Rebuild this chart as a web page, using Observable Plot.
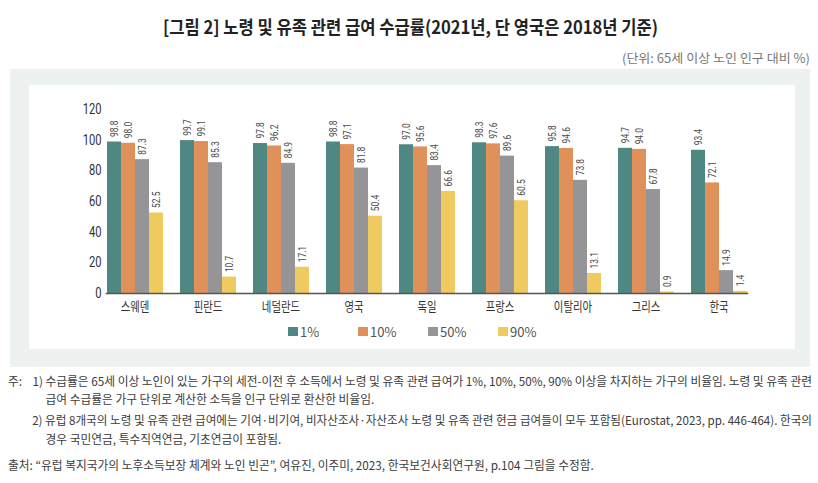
<!DOCTYPE html>
<html><head><meta charset="utf-8">
<script src="https://cdn.jsdelivr.net/npm/d3@7"></script>
<script src="https://cdn.jsdelivr.net/npm/@observablehq/plot@0.6"></script>
<style>
html,body{margin:0;padding:0;}
body{width:818px;height:483px;background:#fff;position:relative;overflow:hidden;font-family:"Noto Sans CJK KR",sans-serif;}
.abs{position:absolute;white-space:nowrap;display:inline-block;}
#title{top:13px;font-size:18px;font-weight:700;color:#222;line-height:26px;}
#unit{top:50px;font-size:12.5px;color:#777;line-height:16px;}
#panel{position:absolute;left:10px;top:69px;width:800px;height:298px;background:#edf2f1;}
#inner{position:absolute;left:29px;top:85px;width:766px;height:264px;background:#fff;}
#chart{position:absolute;left:29px;top:85px;}
#legend{position:absolute;left:288px;top:322px;height:18px;}
.note{font-size:12px;color:#3c3c3c;line-height:14px;}
.lab{display:inline-block;width:25px;}
.hid{visibility:hidden;}
.lg-swatches{font-family:"Noto Sans CJK KR",sans-serif !important;font-size:13px !important;color:#555 !important;margin:0 !important;min-height:18px !important;}
.lg-swatch{width:70px !important;margin-right:0 !important;}
.lg-swatch > svg{margin-right:2px !important;}
</style></head>
<body>
<div id="panel"></div>
<div id="inner"></div>
<div id="title" class="abs">[그림 2] 노령 및 유족 관련 급여 수급률(2021년, 단 영국은 2018년 기준)</div>
<div id="unit" class="abs">(단위: 65세 이상 노인 인구 대비 %)</div>
<div id="chart"></div>
<div id="legend"></div>
<div id="n1" class="abs note" style="top:374px"><span class="lab">주:</span>1) 수급률은 65세 이상 노인이 있는 가구의 세전-이전 후 소득에서 노령 및 유족 관련 급여가 1%, 10%, 50%, 90% 이상을 차지하는 가구의 비율임. 노령 및 유족 관련</div>
<div id="n2" class="abs note" style="top:392px"><span class="hid"><span class="lab">주:</span>1) </span>급여 수급률은 가구 단위로 계산한 소득을 인구 단위로 환산한 비율임.</div>
<div id="n3" class="abs note" style="top:413px"><span class="hid"><span class="lab">주:</span></span>2) 유럽 8개국의 노령 및 유족 관련 급여에는 기여·비기여, 비자산조사·자산조사 노령 및 유족 관련 현금 급여들이 모두 포함됨(Eurostat, 2023, pp. 446-464). 한국의</div>
<div id="n4" class="abs note" style="top:432px"><span class="hid"><span class="lab">주:</span>2) </span>경우 국민연금, 특수직역연금, 기초연금이 포함됨.</div>
<div id="n5" class="abs note" style="top:458px">출처: “유럽 복지국가의 노후소득보장 체계와 노인 빈곤”, 여유진, 이주미, 2023, 한국보건사회연구원, p.104 그림을 수정함.</div>
<script>
const countries = ["스웨덴","핀란드","네덜란드","영국","독일","프랑스","이탈리아","그리스","한국"];
const series = ["1%","10%","50%","90%"];
const p1  = [98.8, 99.7, 97.8, 98.8, 97.0, 98.3, 95.8, 94.7, 93.4];
const p10 = [98.0, 99.1, 96.2, 97.1, 95.6, 97.6, 94.6, 94.0, 72.1];
const p50 = [87.3, 85.3, 84.9, 81.8, 83.4, 89.6, 73.8, 67.8, 14.9];
const p90 = [52.5, 10.7, 17.1, 50.4, 66.6, 60.5, 13.1, 0.9, 1.4];
const yTicks = [0, 20, 40, 60, 80, 100, 120];
const colors = ["#4f8783", "#e0915a", "#959597", "#efca60"];

function fit(id, left, width) {
  const el = document.getElementById(id);
  const w = el.getBoundingClientRect().width;
  const k = width / w;
  el.style.transformOrigin = "0 50%";
  el.style.left = left + "px";
  el.style.transform = `scaleX(${k})`;
  return k;
}
function applyK(id, left, k) {
  const el = document.getElementById(id);
  el.style.transformOrigin = "0 50%";
  el.style.left = left + "px";
  el.style.transform = `scaleX(${k})`;
}
fit("title", 163, 495);
fit("unit", 622, 188);
const k = fit("n1", 8, 804);
fit("n3", 8, 804);
["n2","n4","n5"].forEach(id => applyK(id, 8, k));

const seriesValues = [p1, p10, p50, p90];
const rows = countries.flatMap((country, i) =>
  series.map((s, j) => ({country, series: s, value: seriesValues[j][i]})));
const fmt = d3.format(".1f");

const chart = Plot.plot({
  width: 766, height: 233,
  marginLeft: 66, marginRight: 38, marginTop: 24, marginBottom: 25,
  style: {fontFamily: "Roboto, 'Noto Sans CJK KR', sans-serif", background: "transparent", overflow: "visible"},
  fx: {domain: countries, paddingInner: 0.22, paddingOuter: 0.11, label: null},
  x: {domain: series, padding: 0, axis: null},
  y: {domain: [0, 120]},
  color: {domain: series, range: colors},
  marks: [
    Plot.axisY({ticks: yTicks, tickSize: 0, tickPadding: 5, label: null, fontSize: 14, fill: "#333"}),
    Plot.axisFx({anchor: "bottom", tickSize: 0, tickPadding: 8, label: null, fontSize: 13, fontFamily: "Noto Sans CJK KR", fill: "#333"}),
    Plot.barY(rows, {fx: "country", x: "series", y: "value", fill: "series"}),
    Plot.text(rows, {fx: "country", x: "series", y: "value", text: d => fmt(d.value), rotate: -90, textAnchor: "start", dy: -5, fontSize: 10.5, fill: "#4a4a4a"}),
    Plot.frame({anchor: "bottom", facet: "super", stroke: "#555", strokeWidth: 1.5})
  ]
});
d3.select(chart).selectAll("text").each(function() {
  const t = this.getAttribute("transform");
  if (t) this.setAttribute("transform", t + " scale(0.8,1)");
});
document.getElementById("chart").appendChild(chart);

const leg = Plot.legend({color: {type: "ordinal", domain: series, range: colors}, swatchWidth: 10, swatchHeight: 9, className: "lg"});
document.getElementById("legend").appendChild(leg);
</script>
</body></html>
